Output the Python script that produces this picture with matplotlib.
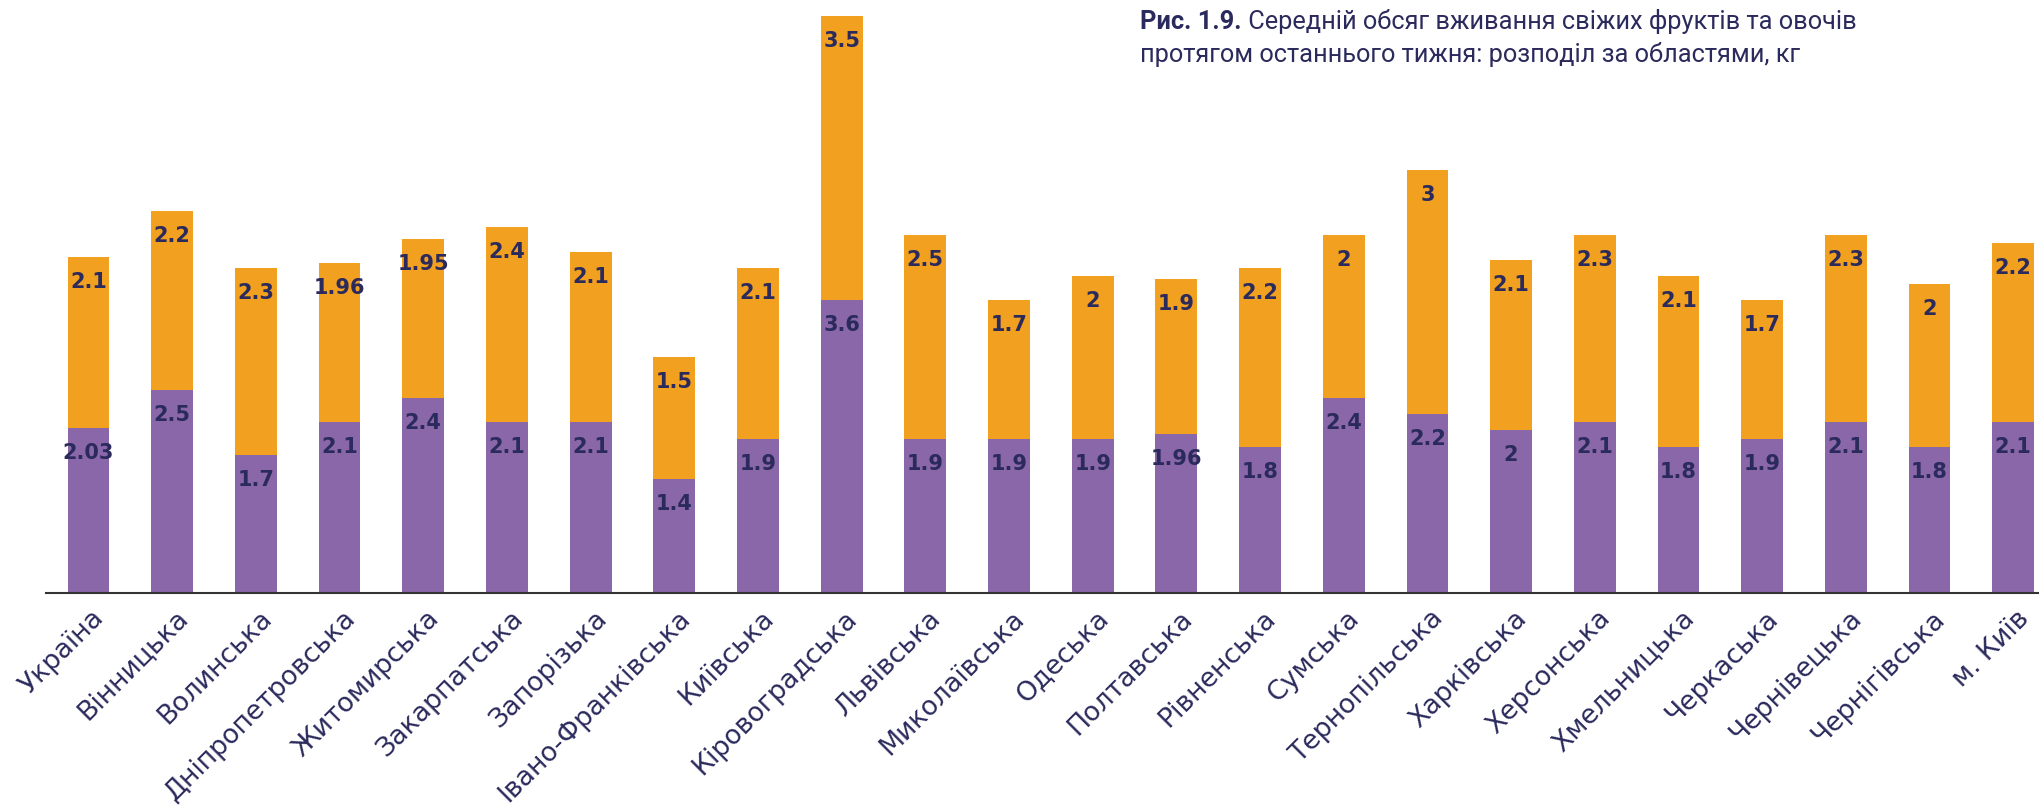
import matplotlib.pyplot as plt
from matplotlib.transforms import ScaledTranslation

regions = ['Україна', 'Вінницька', 'Волинська', 'Дніпропетровська', 'Житомирська',
           'Закарпатська', 'Запорізька', 'Івано-Франківська', 'Київська', 'Кіровоградська',
           'Львівська', 'Миколаївська', 'Одеська', 'Полтавська', 'Рівненська', 'Сумська',
           'Тернопільська', 'Харківська', 'Херсонська', 'Хмельницька', 'Черкаська',
           'Чернівецька', 'Чернігівська', 'м. Київ']
fruits = [2.03, 2.5, 1.7, 2.1, 2.4, 2.1, 2.1, 1.4, 1.9, 3.6, 1.9, 1.9,
          1.9, 1.96, 1.8, 2.4, 2.2, 2, 2.1, 1.8, 1.9, 2.1, 1.8, 2.1]
vegetables = [2.1, 2.2, 2.3, 1.96, 1.95, 2.4, 2.1, 1.5, 2.1, 3.5, 2.5, 1.7,
              2, 1.9, 2.2, 2, 3, 2.1, 2.3, 2.1, 1.7, 2.3, 2, 2.2]

purple = '#8967a8'
orange = '#f2a01f'
navy = '#2b2a5c'

fig = plt.figure(figsize=(20.4, 8.09), dpi=100)
ax = fig.add_axes([46 / 2040, 216 / 809, 1 - 46 / 2040, 593 / 809])

x = range(len(regions))
ax.bar(x, fruits, width=0.5, color=purple)
ax.bar(x, vegetables, width=0.5, bottom=fruits, color=orange)

def fmt(v):
    return ('%g' % v)

# value labels just under the top of each segment
for i in x:
    ax.annotate(fmt(fruits[i]), (i, fruits[i]), xytext=(0, -18), textcoords='offset points',
                ha='center', va='center', fontsize=15, fontweight='bold',
                color=navy, family='DejaVu Sans')
    top = fruits[i] + vegetables[i]
    ax.annotate(fmt(vegetables[i]), (i, top), xytext=(0, -18), textcoords='offset points',
                ha='center', va='center', fontsize=15, fontweight='bold',
                color=navy, family='DejaVu Sans')

ax.set_xlim(-0.508, 23.32)
ax.set_ylim(0, 7.294)
for s in ['top', 'right', 'left']:
    ax.spines[s].set_visible(False)
ax.spines['bottom'].set_color('#333333')
ax.spines['bottom'].set_linewidth(1.5)
ax.set_yticks([])
ax.set_xticks(list(x))
ax.set_xticklabels(regions, rotation=45, ha='right', va='center', rotation_mode='anchor',
                   fontsize=19.3, color=navy, family='DejaVu Sans')
ax.tick_params(axis='x', length=0, pad=15.5)
shift = ScaledTranslation(0.12, 0, fig.dpi_scale_trans)
for lab in ax.get_xticklabels():
    lab.set_transform(lab.get_transform() + shift)

# two-line heading, first words in bold
head = fig.text(1140 / 2040, 1 - 34 / 809, 'Рис. 1.9.', fontsize=18.3, fontweight='bold',
                color=navy, family='Roboto', va='bottom')
ax.annotate(' Середній обсяг вживання свіжих фруктів та овочів', xy=(1, 0), xycoords=head,
            va='bottom', ha='left', fontsize=18.3, color=navy, family='Roboto')
fig.text(1140 / 2040, 1 - 67 / 809, 'протягом останнього тижня: розподіл за областями, кг',
         fontsize=18.3, color=navy, family='Roboto', va='bottom')

fig.savefig('out.png', dpi=100)
